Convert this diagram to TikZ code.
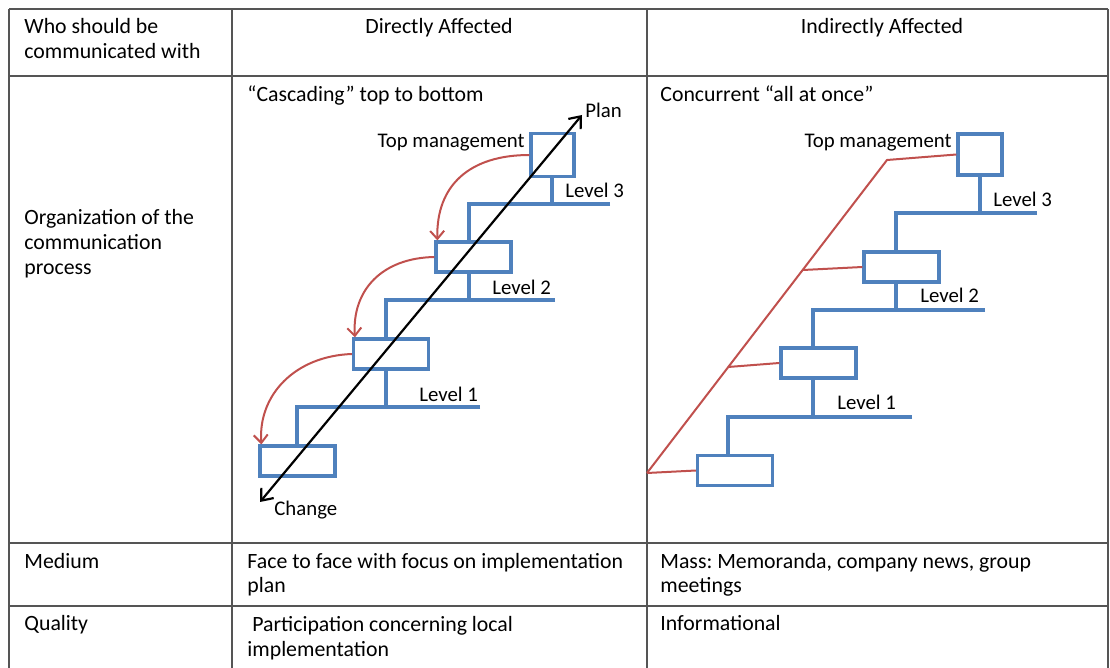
\documentclass[tikz,border=0pt]{standalone}
\usepackage{fontspec}
\setmainfont{Carlito}
\usetikzlibrary{arrows.meta}
\frenchspacing

\definecolor{stairblue}{RGB}{79,129,189}
\definecolor{flowred}{RGB}{192,80,77}
\definecolor{rulegray}{RGB}{85,85,85}

\tikzset{
    rule/.style={draw=rulegray, line width=1pt},
    stair/.style={draw=stairblue, line width=1.6pt},
    levelbox/.style={draw=stairblue, line width=1.6pt, fill=white, inner sep=0pt, minimum width=37.5pt, minimum height=15pt},
    topbox/.style={levelbox, minimum width=21.5pt, minimum height=21.5pt},
    flow/.style={draw=flowred, line width=1pt},
    celltext/.style={inner sep=0pt, anchor=base west, align=left, font=\fontsize{10.9}{12.5}\selectfont},
    tag/.style={inner sep=0pt, font=\fontsize{10.4}{12}\selectfont},
}

\begin{document}
\begin{tikzpicture}[x=0.5pt, y=-0.5pt]

    \useasboundingbox (0,0) rectangle (1110,668);

    \foreach \x in {9,232,647,1108}
    {
        \draw [rule] (\x,9) -- (\x,668);
    }
    \foreach \y in {9,76,543,606}
    {
        \draw [rule] (9,\y) -- (1108,\y);
    }

    \node [celltext] (who) at (24,59) {Who should be\\communicated with};
    \node [celltext, anchor=base] (direct) at (439,34) {Directly Affected};
    \node [celltext, anchor=base] (indirect) at (882,34) {Indirectly Affected};

    \node [celltext] (organization) at (24,275) {Organization of the\\communication\\process};
    \node [celltext] (medium) at (24,568) {Medium};
    \node [celltext] (quality) at (24,631) {Quality};

    \node [celltext] (cascading) at (247,102) {“Cascading” top to bottom};
    \node [celltext] (concurrent) at (660,102) {Concurrent “all at once”};

    \node [celltext] (facetoface) at (247,593) {Face to face with focus on implementation\\plan};
    \node [celltext] (mass) at (660,593) {Mass: Memoranda, company news, group\\meetings};
    \node [celltext] (participation) at (247,656) {\ Participation concerning local\\implementation};
    \node [celltext] (informational) at (660,631) {Informational};

    \foreach \sx/\sb/\by/\bl/\br/\nt in {552/177/204/469/610/242, 469/272/300/386/555/339, 386/369/407/297/480/446,
                                        980/175/213/896/1037/252, 896/282/310/813/985/348, 813/378/417/728/912/456}
    {
        \draw [stair] (\sx,\sb) -- (\sx,\by) (\br,\by) -- (\bl,\by) -- (\bl,\nt);
    }

    \node [topbox] (dtop) at (552.5,155) {};
    \node [levelbox] (dtwo) at (473.5,257) {};
    \node [levelbox] (dthree) at (391,354) {};
    \node [levelbox] (dfour) at (297.5,461) {};

    \node [topbox, minimum width=22pt, minimum height=20.5pt] (itop) at (980,154.5) {};
    \node [levelbox] (itwo) at (901.5,267) {};
    \node [levelbox] (ithree) at (818.5,363) {};
    \node [levelbox] (ifour) at (735,470.5) {};

    \node [tag, anchor=base east] (dtoplabel) at (525,148) {Top management};
    \node [tag, anchor=base west] (dlevelthree) at (565,198) {Level 3};
    \node [tag, anchor=base west] (dleveltwo) at (492,295) {Level 2};
    \node [tag, anchor=base west] (dlevelone) at (419,402) {Level 1};
    \node [tag, anchor=base west] (plan) at (585,118) {Plan};
    \node [tag, anchor=base west] (change) at (274,516) {Change};

    \node [tag, anchor=base east] (itoplabel) at (952,148) {Top management};
    \node [tag, anchor=base west] (ilevelthree) at (993,207) {Level 3};
    \node [tag, anchor=base west] (ileveltwo) at (920,303) {Level 2};
    \node [tag, anchor=base west] (ilevelone) at (837,410) {Level 1};

    \draw [flow, ->, >={Straight Barb[length=4pt, width=7pt]}] (dtop.west) .. controls (470,155) and (436,185) .. ([xshift=1.5pt]dtwo.north west);
    \draw [flow, ->, >={Straight Barb[length=4pt, width=7pt]}] (dtwo.west) .. controls (382,258) and (352,290) .. ([xshift=1.5pt]dthree.north west);
    \draw [flow, ->, >={Straight Barb[length=4pt, width=7pt]}] (dthree.west) .. controls (295,356) and (258,395) .. ([xshift=1.5pt]dfour.north west);

    \coordinate (chgtip) at (260,502);
    \coordinate (plantip) at (582,115);
    \draw [<->, >={Straight Barb[length=5pt, width=8pt]}, line width=1.1pt] (chgtip) -- (plantip);

    \coordinate (root) at (647,473);
    \coordinate (bend) at (887,160);
    \coordinate (forktwo) at (803,270);
    \coordinate (forkone) at (728,367);

    \draw [flow] (root) -- (bend) -- (itop.west);
    \draw [flow] (forktwo) -- (itwo.west);
    \draw [flow] (forkone) -- (ithree.west);
    \draw [flow] (root) -- (ifour.west);

\end{tikzpicture}
\end{document}
